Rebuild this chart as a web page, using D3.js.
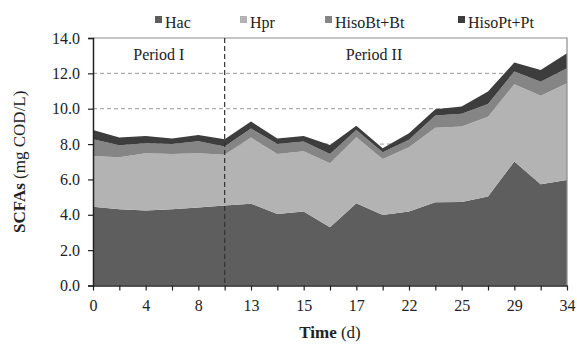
<!DOCTYPE html>
<html><head><meta charset="utf-8">
<script src="https://cdn.jsdelivr.net/npm/d3@7"></script>
<style>
html,body{margin:0;padding:0;background:#fff;}
svg{display:block;font-family:"Liberation Serif","DejaVu Serif",serif;}
</style></head>
<body><svg id="c" width="577" height="346"></svg>
<script>
// ---- data ----
const xLabels = ["0","","4","","8","","13","","15","","17","","22","","25","","29","","34"];
const seriesNames = ["Hac","Hpr","HisoBt+Bt","HisoPt+Pt"];
const hac    = [4.46,4.31,4.24,4.31,4.41,4.52,4.63,4.05,4.18,3.30,4.65,3.99,4.18,4.71,4.73,5.03,7.01,5.73,5.97];
const hpr    = [2.87,2.94,3.24,3.13,3.07,2.88,3.74,3.39,3.42,3.62,3.74,3.17,3.64,4.22,4.26,4.52,4.38,5.01,5.47];
const hisoBt = [0.94,0.69,0.57,0.57,0.68,0.46,0.51,0.57,0.54,0.52,0.41,0.38,0.42,0.68,0.72,0.72,0.71,0.79,0.85];
const hisoPt = [0.53,0.43,0.41,0.30,0.36,0.41,0.39,0.30,0.32,0.51,0.23,0.23,0.37,0.36,0.41,0.70,0.51,0.66,0.85];
const yTicks = [0,2,4,6,8,10,12,14];
const periodLabels = ["Period I","Period II"];
const periodSplitIndex = 5;
const colors = ["#5e5e5e","#b3b3b3","#858585","#3d3d3d"];

// ---- layout ----
const svg = d3.select("#c");
const L = 93, R = 567, T = 38, B = 285.5;
const idx = d3.range(xLabels.length);
const x = d3.scalePoint().domain(idx).range([L, R]);
const y = d3.scaleLinear().domain([0, 14]).range([B, T]);

const table = idx.map(i => ({i, "Hac": hac[i], "Hpr": hpr[i], "HisoBt+Bt": hisoBt[i], "HisoPt+Pt": hisoPt[i]}));
const stacked = d3.stack().keys(seriesNames)(table);

// gridlines
svg.append("g").selectAll("line").data(yTicks.filter(t => t > 0 && t < 14)).join("line")
  .attr("x1", L).attr("x2", R).attr("y1", d => y(d)).attr("y2", d => y(d))
  .attr("stroke", "#999").attr("stroke-width", 1).attr("stroke-dasharray", "4,3");

// areas
const area = d3.area().x(d => x(d.data.i)).y0(d => y(d[0])).y1(d => y(d[1]));
svg.append("g").selectAll("path").data(stacked).join("path")
  .attr("d", area).attr("fill", (d, k) => colors[k]);

// plot border (top/right)
svg.append("path").attr("d", `M${L},${T}H${R}V${B}`).attr("fill", "none")
  .attr("stroke", "#8c8c8c").attr("stroke-width", 1.2);

// divider
svg.append("line").attr("x1", x(periodSplitIndex)).attr("x2", x(periodSplitIndex))
  .attr("y1", T).attr("y2", B).attr("stroke", "#333").attr("stroke-width", 1.2)
  .attr("stroke-dasharray", "5,3");

// axes
const yAxis = d3.axisLeft(y).tickValues(yTicks).tickFormat(d3.format(".1f")).tickSize(5).tickPadding(8);
const gy = svg.append("g").attr("transform", `translate(${L},0)`).call(yAxis);
gy.select(".domain").attr("stroke", "#222").attr("stroke-width", 1.5);
gy.selectAll(".tick line").attr("stroke", "#222").attr("stroke-width", 1.2);
gy.selectAll("text").attr("font-size", 16).attr("fill", "#222").attr("font-family", "Liberation Serif");

const xAxis = d3.axisBottom(x).tickFormat(i => xLabels[i]).tickSize(5).tickPadding(9).tickSizeOuter(0);
const gx = svg.append("g").attr("transform", `translate(0,${B})`).call(xAxis);
gx.select(".domain").attr("stroke", "#222").attr("stroke-width", 1.5);
gx.selectAll(".tick line").attr("stroke", "#222").attr("stroke-width", 1.2);
gx.selectAll("text").attr("font-size", 16).attr("fill", "#222").attr("font-family", "Liberation Serif");

// period labels
svg.append("text").attr("x", (L + x(periodSplitIndex)) / 2).attr("y", 60).attr("text-anchor", "middle")
  .attr("font-size", 16).attr("fill", "#222").text(periodLabels[0]);
svg.append("text").attr("x", 374).attr("y", 60).attr("text-anchor", "middle")
  .attr("font-size", 16).attr("fill", "#222").text(periodLabels[1]);

// axis titles
const xt = svg.append("text").attr("x", (L + R) / 2).attr("y", 338).attr("text-anchor", "middle")
  .attr("font-size", 17).attr("fill", "#222");
xt.append("tspan").attr("font-weight", "bold").text("Time");
xt.append("tspan").text(" (d)");
const yt = svg.append("text").attr("transform", `translate(25,${(T + B) / 2}) rotate(-90)`)
  .attr("text-anchor", "middle").attr("font-size", 17).attr("fill", "#222");
yt.append("tspan").attr("font-weight", "bold").text("SCFAs");
yt.append("tspan").text(" (mg COD/L)");

// legend
const legX = [155, 240, 325, 458];
const lg = svg.append("g").selectAll("g").data(seriesNames).join("g")
  .attr("transform", (d, k) => `translate(${legX[k]},0)`);
lg.append("rect").attr("x", 0).attr("y", 16).attr("width", 7).attr("height", 7).attr("fill", (d, k) => colors[k]);
lg.append("text").attr("x", 10).attr("y", 28).attr("font-size", 16).attr("fill", "#222").text(d => d);
</script></body></html>
